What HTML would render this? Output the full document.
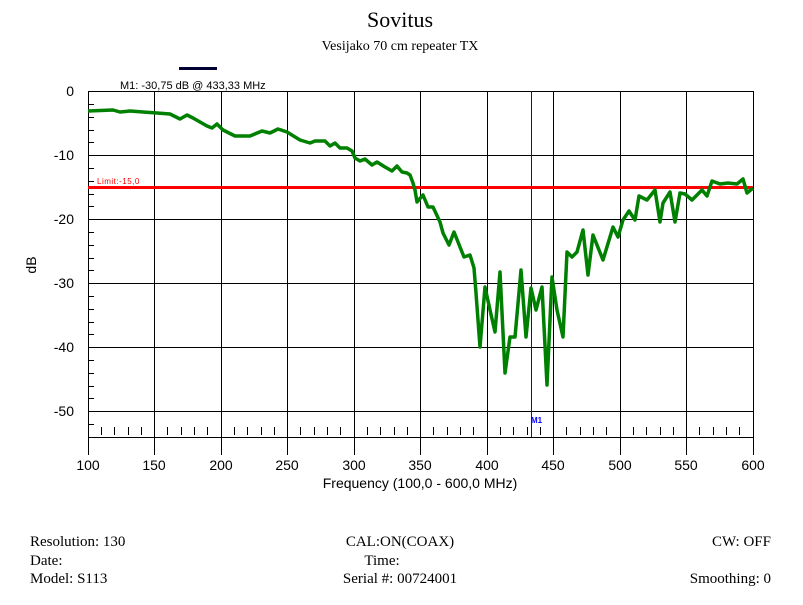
<!DOCTYPE html>
<html><head><style>html,body{margin:0;padding:0;background:#fff;}svg{display:block}</style></head><body>
<svg width="803" height="605" xmlns="http://www.w3.org/2000/svg">
<rect width="803" height="605" fill="#fff"/>
<text x="400" y="27" text-anchor="middle" font-family="Liberation Serif, serif" font-size="22">Sovitus</text>
<text x="400" y="50" text-anchor="middle" font-family="Liberation Serif, serif" font-size="14">Vesijako 70 cm repeater TX</text>
<line x1="179" y1="68.5" x2="217" y2="68.5" stroke="#000033" stroke-width="3"/>
<text x="120" y="89" font-family="Liberation Sans, sans-serif" font-size="11">M1: -30,75 dB @ 433,33 MHz</text>
<g stroke="#000" stroke-width="1" fill="none">
<path d="M88.5 91.5H753.5V437.5H88.5Z"/>
<path d="M88.5 155.5H753.5M88.5 219.5H753.5M88.5 283.5H753.5M88.5 347.5H753.5M88.5 411.5H753.5"/>
<path d="M154.5 91V455M221.5 91V455M287.5 91V455M354.5 91V455M420.5 91V455M487.5 91V455M553.5 91V455M620.5 91V455M686.5 91V455M753.5 91V455M88.5 91V455"/>
<path d="M88 104.5h6M88 117.5h6M88 130.5h6M88 142.5h6M88 168.5h6M88 181.5h6M88 194.5h6M88 206.5h6M88 232.5h6M88 245.5h6M88 258.5h6M88 270.5h6M88 296.5h6M88 309.5h6M88 322.5h6M88 334.5h6M88 360.5h6M88 373.5h6M88 386.5h6M88 398.5h6M88 424.5h6"/>
</g>
<g stroke="#000" stroke-width="1" id="tk"></g>
<path stroke="#000" stroke-width="1" d="M101.5 427v8M114.5 427v8M128.5 427v8M141.5 427v8M167.5 427v8M181.5 427v8M194.5 427v8M207.5 427v8M234.5 427v8M247.5 427v8M261.5 427v8M274.5 427v8M300.5 427v8M314.5 427v8M327.5 427v8M340.5 427v8M367.5 427v8M380.5 427v8M394.5 427v8M407.5 427v8M433.5 427v8M447.5 427v8M460.5 427v8M473.5 427v8M500.5 427v8M513.5 427v8M527.5 427v8M540.5 427v8M566.5 427v8M580.5 427v8M593.5 427v8M606.5 427v8M633.5 427v8M646.5 427v8M660.5 427v8M673.5 427v8M699.5 427v8M713.5 427v8M726.5 427v8M739.5 427v8"/>
<g font-family="Liberation Sans, sans-serif" font-size="14" text-anchor="end">
<text x="74" y="96">0</text><text x="74" y="160">-10</text><text x="74" y="224">-20</text><text x="74" y="288">-30</text><text x="74" y="352">-40</text><text x="74" y="416">-50</text>
</g>
<g font-family="Liberation Sans, sans-serif" font-size="14" text-anchor="middle">
<text x="88" y="470">100</text><text x="154" y="470">150</text><text x="221" y="470">200</text><text x="287" y="470">250</text><text x="354" y="470">300</text><text x="420" y="470">350</text><text x="487" y="470">400</text><text x="553" y="470">450</text><text x="620" y="470">500</text><text x="686" y="470">550</text><text x="753" y="470">600</text>
<text x="420" y="488">Frequency (100,0 - 600,0 MHz)</text>
<text transform="translate(36 265) rotate(-90)">dB</text>
</g>
<line x1="531.5" y1="91" x2="531.5" y2="437" stroke="#0000ff" stroke-width="1"/>
<text x="531" y="423" font-family="Liberation Sans, sans-serif" font-size="8" fill="#0000ff" font-weight="bold">M1</text>
<line x1="88" y1="187.5" x2="753" y2="187.5" stroke="#ff0000" stroke-width="3"/>
<text x="97" y="184" font-family="Liberation Sans, sans-serif" font-size="8" fill="#ff0000" letter-spacing="0.5">Limit:-15,0</text>
<polyline fill="none" stroke="#008000" stroke-width="3.5" stroke-linejoin="round" points="88,111 113,110 120,112 130,111 143,112 157,113 170,114 180,119 187,115 193,118 207,126 212,128 217,124 223,130 235,136 250,136 262,131 270,133 278,129 287,132 300,140 310,143 315,141 325,141 330,146 335,143 340,148 347,148 352,151 355,158 360,161 365,159 372,165 377,162 385,167 392,171 397,166 402,172 407,173 410,175 413,183 415,190 417,202 423,195 428,207 433,207 440,222 443,233 449,245 454,232 464,257 470,255 474,268 476,293 480,347 485,287 490,310 495,332 500,272 505,373 510,337 515,337 521,270 526,337 531,288 536,310 542,287 547,385 552,277 557,310 563,337 567,252 572,257 577,252 583,230 588,275 593,235 603,260 613,227 618,237 623,220 629,211 635,220 639,196 647,200 655,190 660,222 663,203 670,192 675,222 680,193 685,194 692,200 702,190 707,196 712,181 720,184 728,183 737,184 743,179 747,193 753,188"/>
<g font-family="Liberation Serif, serif" font-size="15">
<text x="30" y="546">Resolution:  130</text>
<text x="30" y="565">Date:</text>
<text x="30" y="583">Model: S113</text>
<text x="400" y="546" text-anchor="middle">CAL:ON(COAX)</text>
<text x="382" y="565" text-anchor="middle">Time:</text>
<text x="400" y="583" text-anchor="middle">Serial #: 00724001</text>
<text x="771" y="546" text-anchor="end">CW: OFF</text>
<text x="771" y="583" text-anchor="end">Smoothing:  0</text>
</g>
</svg>
</body></html>
